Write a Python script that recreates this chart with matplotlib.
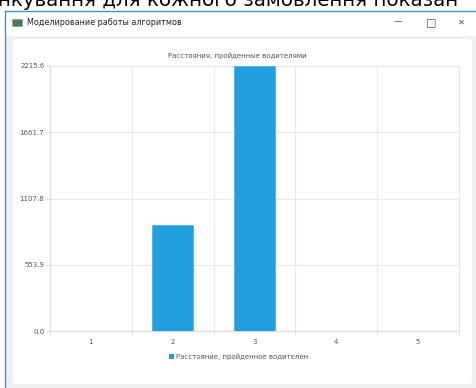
import matplotlib
matplotlib.use('Agg')
import matplotlib.pyplot as plt
from matplotlib.patches import Rectangle, FancyBboxPatch

# Данные графика
categories = ['1', '2', '3', '4', '5']
distances = [0, 886.2, 2215.6, 0, 0]
y_ticks = [0.0, 553.9, 1107.8, 1661.7, 2215.6]

chart_title = 'Расстояния, пройденные водителями'
legend_label = 'Расстояние, пройденное водителен'
window_title = 'Моделирование работы алгоритмов'
page_text = 'нкування для кожного замовлення показан'

W, H = 477, 388
bar_color = '#209fdf'
grid_color = '#e8e8e8'
text_color = '#555555'

fig = plt.figure(figsize=(W / 100, H / 100), dpi=100)
fig.patch.set_facecolor('white')

# Фон: окно, заголовок, карточка (в пикселях)
bg = fig.add_axes([0, 0, 1, 1])
bg.set_xlim(0, W)
bg.set_ylim(H, 0)
bg.axis('off')

bg.text(-2, 6.5, page_text, fontsize=14.3, color='black', va='baseline', ha='left')
bg.add_patch(Rectangle((5, 11), W - 5, H - 11, facecolor='#f0f0f0', edgecolor='none'))
bg.add_patch(Rectangle((5, 11), W - 5, 25, facecolor='white', edgecolor='none'))
bg.plot([5, 5], [11, H], color='#3c8fd8', lw=1)
bg.plot([5, W], [11, 11], color='#3c8fd8', lw=1)
bg.add_patch(Rectangle((12, 19), 10, 7, facecolor='#4a7a5a', edgecolor='#999999', lw=0.5))
bg.text(27, 22.5, window_title, fontsize=5.8, color='#222222', va='center', ha='left')
bg.text(398, 22, '—', fontsize=6, color='#555555', va='center', ha='center')
bg.text(431, 22, '□', fontsize=8, color='#555555', va='center', ha='center')
bg.text(461, 22, '✕', fontsize=6, color='#555555', va='center', ha='center')
bg.add_patch(FancyBboxPatch((13, 39), 459, 345, boxstyle='round,pad=0,rounding_size=3',
                            facecolor='white', edgecolor='none'))
bg.text(237, 56, chart_title, fontsize=5, color=text_color, ha='center', va='center')

# Область графика
left, top, right, bottom = 50, 66, 459, 331
ax = fig.add_axes([left / W, 1 - bottom / H, (right - left) / W, (bottom - top) / H])
ax.set_facecolor('white')

x = list(range(len(categories)))
ax.bar(x, distances, width=0.5, color=bar_color, edgecolor='#4db3e8', linewidth=0.6, zorder=3)

ax.set_xlim(-0.5, len(categories) - 0.5)
ax.set_ylim(0, y_ticks[-1])
ax.set_xticks(x)
ax.set_xticklabels(categories)
ax.set_xticks([i - 0.5 for i in range(len(categories) + 1)], minor=True)
ax.set_yticks(y_ticks)
ax.set_yticklabels([f'{v:.1f}' for v in y_ticks])

ax.grid(True, which='minor', axis='x', color=grid_color, lw=0.8, zorder=0)
ax.grid(True, which='major', axis='y', color=grid_color, lw=0.8, zorder=0)
ax.tick_params(axis='x', which='major', length=0, labelsize=5, colors=text_color, pad=6)
ax.tick_params(axis='x', which='minor', length=3, color='#dddddd')
ax.tick_params(axis='y', length=3, color='#dddddd', labelsize=5, labelcolor=text_color, pad=1)
for side, sp in ax.spines.items():
    sp.set_color('#dddddd' if side in ('left', 'bottom') else grid_color)
    sp.set_linewidth(0.9)

# Легенда
bg.add_patch(Rectangle((169, 354), 5, 5, facecolor=bar_color, edgecolor='none'))
bg.text(176, 356.5, legend_label, fontsize=5, color=text_color, ha='left', va='center')

fig.savefig('out.png', dpi=100)
plt.close(fig)
